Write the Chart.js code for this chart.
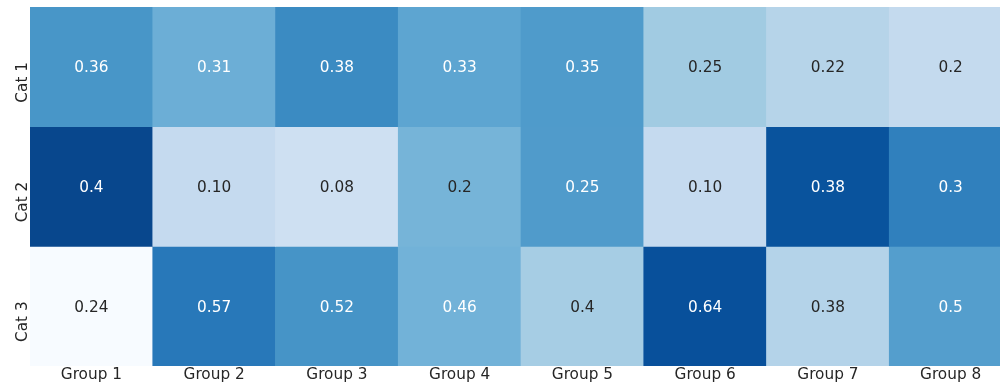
<!DOCTYPE html>
<html>
<head>
<meta charset="utf-8">
<script src="https://cdn.jsdelivr.net/npm/chart.js@4.4.0/dist/chart.umd.min.js"></script>
<style>
  html, body { margin: 0; padding: 0; background: #fff; overflow: hidden; width: 1000px; height: 388px; }
  #wrap { width: 1012px; height: 388px; }
</style>
</head>
<body>
<div id="wrap"><canvas id="heat" width="1012" height="388"></canvas></div>
<script>
// Column and row names
const groups = ['Group 1', 'Group 2', 'Group 3', 'Group 4', 'Group 5', 'Group 6', 'Group 7', 'Group 8'];
const categories = ['Cat 1', 'Cat 2', 'Cat 3'];

// Cell values, one list per row, kept as the strings printed in each cell
const cat1Values = ['0.36', '0.31', '0.38', '0.33', '0.35', '0.25', '0.22', '0.2'];
const cat2Values = ['0.4', '0.10', '0.08', '0.2', '0.25', '0.10', '0.38', '0.3'];
const cat3Values = ['0.24', '0.57', '0.52', '0.46', '0.4', '0.64', '0.38', '0.5'];
const rowValues = [cat1Values, cat2Values, cat3Values];

// Reference level of each row; cells are shaded by their distance from it
const rowReference = [0.311, 0.212, 0.468];

// Sequential "Blues" colour ramp
const BLUES = ['#f7fbff', '#deebf7', '#c6dbef', '#9ecae1', '#6baed6', '#4292c6', '#2171b5', '#08519c', '#08306b'];
const TEXT_DARK = '#262626';
const TEXT_LIGHT = '#ffffff';
const FONT = '"DejaVu Sans", "Liberation Sans", sans-serif';

function hexToRgb(h) {
  return [parseInt(h.slice(1, 3), 16), parseInt(h.slice(3, 5), 16), parseInt(h.slice(5, 7), 16)];
}
const rampRgb = BLUES.map(hexToRgb);

function blues(t) {
  t = Math.min(1, Math.max(0, t));
  const pos = t * (rampRgb.length - 1);
  const i = Math.min(rampRgb.length - 2, Math.floor(pos));
  const f = pos - i;
  return rampRgb[i].map((c, k) => Math.round(c + (rampRgb[i + 1][k] - c) * f));
}

function luminance(rgb) {
  const lin = rgb.map(c => {
    c /= 255;
    return c <= 0.03928 ? c / 12.92 : Math.pow((c + 0.055) / 1.055, 2.4);
  });
  return 0.2126 * lin[0] + 0.7152 * lin[1] + 0.0722 * lin[2];
}

// Deviation from the row reference, mapped onto a range symmetric around zero
const rows = rowValues.map(r => r.map(Number));
const spread = Math.max(...rows.flatMap((r, i) => r.map(v => Math.abs(v - rowReference[i]))));
const cellRgb = rows.map((r, i) => r.map(v => blues((v - rowReference[i] + spread) / (2 * spread))));

const datasets = categories.map((name, i) => ({
  label: name,
  data: groups.map(() => [i, i + 1]),
  backgroundColor: cellRgb[i].map(c => `rgb(${c[0]},${c[1]},${c[2]})`),
  borderWidth: 0,
  borderSkipped: false,
  barPercentage: 1,
  categoryPercentage: 1,
  grouped: false
}));

// Writes each value in the middle of its cell
const cellText = {
  id: 'cellText',
  afterDatasetsDraw(chart) {
    const ctx = chart.ctx;
    ctx.save();
    ctx.font = `15.3px ${FONT}`;
    ctx.textAlign = 'center';
    ctx.textBaseline = 'alphabetic';
    chart.data.datasets.forEach((ds, i) => {
      chart.getDatasetMeta(i).data.forEach((bar, j) => {
        const cy = (bar.y + bar.base) / 2;
        ctx.fillStyle = luminance(cellRgb[i][j]) > 0.408 ? TEXT_DARK : TEXT_LIGHT;
        ctx.fillText(rowValues[i][j], bar.x, cy + 5.4);
      });
    });
    ctx.restore();
  }
};

// Row names, written upward along the left edge
const rowNames = {
  id: 'rowNames',
  afterDraw(chart) {
    const ctx = chart.ctx;
    const y = chart.scales.y;
    ctx.save();
    ctx.font = `15.3px ${FONT}`;
    ctx.fillStyle = TEXT_DARK;
    ctx.textAlign = 'center';
    ctx.textBaseline = 'alphabetic';
    categories.forEach((name, i) => {
      const py = y.getPixelForValue(i + 0.5) + 15.5;
      ctx.save();
      ctx.translate(26.5, py);
      ctx.rotate(-Math.PI / 2);
      ctx.fillText(name, 0, 0);
      ctx.restore();
    });
    ctx.restore();
  }
};

new Chart(document.getElementById('heat'), {
  type: 'bar',
  data: { labels: groups, datasets },
  options: {
    responsive: false,
    animation: false,
    devicePixelRatio: 1,
    layout: { padding: { top: 7, left: 0, right: 0, bottom: 0 } },
    plugins: { legend: { display: false }, tooltip: { enabled: false } },
    scales: {
      x: {
        type: 'category',
        offset: true,
        grid: { display: false, drawTicks: false },
        border: { display: false },
        ticks: { color: TEXT_DARK, font: { family: FONT, size: 15.3 }, padding: 0, maxRotation: 0, minRotation: 0 },
        afterFit(scale) { scale.height = 22; }
      },
      y: {
        type: 'linear',
        min: 0,
        max: categories.length,
        reverse: true,
        grid: { display: false, drawTicks: false },
        border: { display: false },
        ticks: { display: false },
        afterFit(scale) { scale.width = 30; }
      }
    }
  },
  plugins: [cellText, rowNames]
});
</script>
</body>
</html>
